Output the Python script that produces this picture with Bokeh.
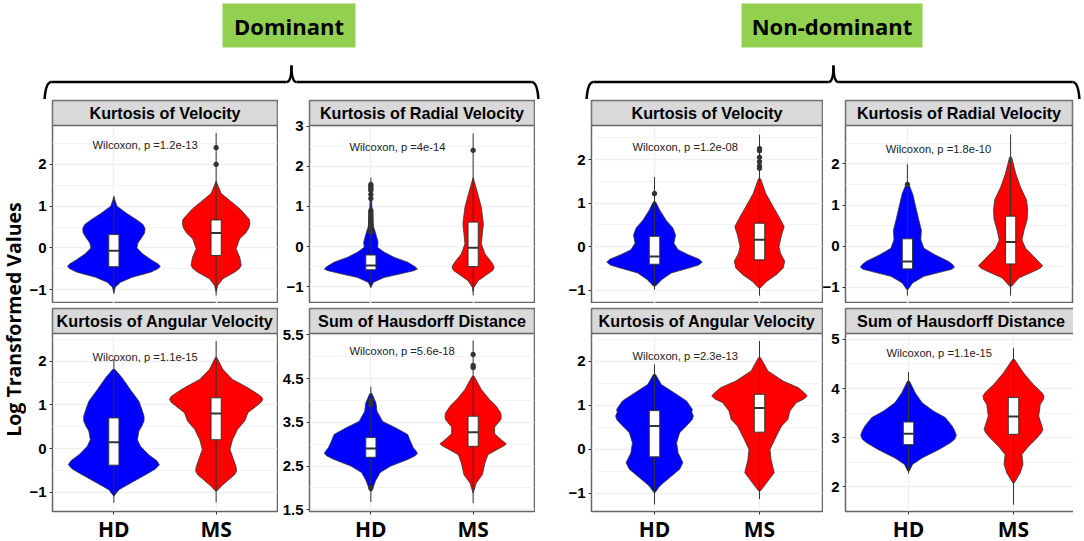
# violin panels, dominant / non-dominant hand
from bokeh.core.properties import value
from bokeh.embed import file_html
from bokeh.layouts import column, row
from bokeh.models import FixedTicker, Label, Range1d
from bokeh.plotting import figure
from bokeh.resources import INLINE

groups = ["HD", "MS"]
titles = ["Kurtosis of Velocity", "Kurtosis of Radial Velocity", "Kurtosis of Angular Velocity", "Sum of Hausdorff Distance",
          "Kurtosis of Velocity", "Kurtosis of Radial Velocity", "Kurtosis of Angular Velocity", "Sum of Hausdorff Distance"]
pvals = ["1.2e-13", "4e-14", "1.1e-15", "5.6e-18", "1.2e-08", "1.8e-10", "2.3e-13", "1.1e-15"]

# density outline: y value and half width of each violin
d_vel_hd_y = [1.22, 1.0, .82, .66, .56, .46, .36, .24, .12, 0, -.14, -.3, -.38, -.44, -.5, -.58, -.7, -.82, -.94, -1.08]
d_vel_hd_w = [0, .03, .13, .23, .285, .305, .30, .27, .235, .225, .28, .375, .43, .455, .43, .36, .18, .065, .013, 0]
d_vel_ms_y = [1.6, 1.5, 1.3, 1.14, .94, .78, .68, .58, .48, .36, .22, -.02, -.22, -.34, -.42, -.5, -.58, -.74, -.9, -1.05]
d_vel_ms_w = [0, .016, .05, .13, .23, .29, .325, .33, .32, .29, .23, .195, .23, .24, .245, .225, .18, .065, .016, 0]

d_rad_hd_y = [1.6, 1.0, .5, .3, .11, -.02, -.14, -.27, -.39, -.5, -.56, -.6, -.68, -.77, -.89, -1.02]
d_rad_hd_w = [0, .01, .025, .05, .07, .065, .13, .23, .36, .43, .455, .42, .29, .13, .026, 0]
d_rad_ms_y = [1.72, 1.32, .98, .57, .32, .07, -.18, -.39, -.47, -.53, -.6, -.68, -.85, -1.02, -1.12]
d_rad_ms_w = [0, .045, .08, .1, .09, .08, .115, .18, .2, .205, .19, .145, .05, .007, 0]

d_ang_hd_y = [1.81, 1.62, 1.35, 1.08, .85, .74, .63, .52, .4, .2, .05, -.14, -.28, -.37, -.46, -.56, -.75, -.94, -1.09]
d_ang_hd_w = [.01, .08, .16, .245, .28, .295, .295, .275, .245, .23, .26, .34, .42, .445, .41, .34, .195, .05, 0]
d_ang_ms_y = [2.08, 1.81, 1.58, 1.39, 1.24, 1.18, 1.12, 1.06, 1.0, .82, .63, .44, .2, -.02, -.25, -.42, -.52, -.6, -.67, -.86, -.97]
d_ang_ms_w = [.007, .065, .16, .31, .41, .445, .455, .44, .41, .31, .28, .21, .16, .135, .17, .195, .2, .18, .145, .05, .007]

d_hau_hd_y = [4.16, 3.94, 3.75, 3.52, 3.37, 3.22, 3.07, 2.92, 2.85, 2.79, 2.73, 2.65, 2.5, 2.35, 2.16, 1.93]
d_hau_hd_w = [.01, .05, .06, .115, .245, .36, .385, .415, .44, .455, .43, .36, .195, .09, .045, .01]
d_hau_ms_y = [4.55, 4.25, 4.02, 3.87, 3.71, 3.63, 3.56, 3.39, 3.24, 3.1, 3.07, 3.01, 2.96, 2.89, 2.76, 2.57, 2.3, 2.11, 1.88]
d_hau_ms_w = [.01, .08, .16, .225, .27, .275, .27, .21, .21, .275, .29, .325, .3, .245, .145, .115, .09, .03, 0]

n_vel_hd_y = [1.03, .84, .61, .43, .27, .08, -.07, -.18, -.28, -.35, -.42, -.49, -.6, -.75, -.9]
n_vel_hd_w = [.01, .05, .11, .175, .2, .185, .225, .32, .42, .455, .42, .32, .16, .07, .01]
n_vel_ms_y = [1.56, 1.22, .92, .69, .46, .27, 0, -.15, -.33, -.49, -.64, -.79, -.94]
n_vel_ms_w = [.01, .06, .13, .185, .235, .21, .185, .2, .24, .225, .16, .07, .01]

n_rad_hd_y = [1.52, 1.28, .96, .64, .39, .15, -.05, -.21, -.37, -.45, -.51, -.56, -.61, -.73, -.89, -1.05]
n_rad_hd_w = [.01, .05, .08, .11, .135, .13, .16, .27, .4, .44, .455, .43, .35, .16, .05, .006]
n_rad_ms_y = [2.16, 1.76, 1.44, 1.12, .88, .64, .39, .15, -.05, -.25, -.41, -.47, -.53, -.61, -.77, -.97]
n_rad_ms_w = [.01, .05, .095, .155, .165, .16, .13, .11, .145, .225, .285, .31, .29, .225, .08, .01]

n_ang_hd_y = [1.7, 1.47, 1.28, 1.1, .91, .84, .76, .68, .57, .38, .15, -.08, -.3, -.45, -.64, -.83, -.98]
n_ang_hd_w = [.01, .065, .19, .305, .36, .355, .37, .36, .32, .24, .21, .225, .27, .24, .145, .05, .006]
n_ang_ms_y = [2.08, 1.78, 1.55, 1.4, 1.28, 1.21, 1.14, 1.06, .87, .68, .53, .3, 0, -.23, -.53, -.72, -.94]
n_ang_ms_w = [.01, .08, .225, .37, .43, .455, .42, .35, .29, .27, .21, .16, .1, .11, .14, .08, .01]

n_hau_hd_y = [4.15, 3.91, 3.71, 3.54, 3.41, 3.24, 3.14, 3.05, 2.97, 2.9, 2.76, 2.59, 2.46, 2.32]
n_hau_hd_w = [.01, .065, .13, .24, .35, .415, .44, .455, .44, .4, .29, .13, .04, .006]
n_hau_ms_y = [4.59, 4.32, 4.08, 3.92, 3.85, 3.78, 3.68, 3.44, 3.24, 3.17, 3.1, 3.0, 2.83, 2.66, 2.46, 2.29, 2.08]
n_hau_ms_w = [.01, .095, .19, .27, .29, .285, .255, .24, .27, .28, .265, .225, .145, .08, .09, .065, .006]

# box stats per panel
hd_q1 = [-.45, -.58, -.38, 2.7, -.4, -.55, -.17, 2.86]
hd_med = [-.07, -.475, .145, 2.9, -.22, -.37, .53, 3.08]
hd_q3 = [.32, -.21, .7, 3.15, .24, .18, .88, 3.32]
ms_q1 = [-.18, -.5, .2, 2.95, -.3, -.43, .39, 3.07]
ms_med = [.36, -.03, .8, 3.27, .16, .1, .94, 3.43]
ms_q3 = [.67, .61, 1.16, 3.64, .54, .73, 1.25, 3.82]
hd_lo = [-1.09, -1.02, -1.24, 1.68, -.98, -1.2, -1.25, 2.27]
hd_hi = [1.25, 1.72, 2.04, 4.31, 1.6, 1.99, 1.93, 4.34]
ms_lo = [-1.14, -1.22, -1.23, 1.65, -1.12, -1.2, -1.13, 1.64]
ms_hi = [2.75, 2.82, 2.46, 5.37, 2.57, 2.71, 2.46, 4.83]

# outliers per panel
hd_out = [[], [.35, .4, .45, .5, .55, .6, .65, .7, .75, .8, .85, .9, 1.2, 1.3, 1.4, 1.45, 1.5, 1.55], [], [2.0, 3.9, 3.95, 4.0],
          [1.22], [1.5], [], []]
ms_out = [[2.0, 2.4], [2.4], [], [4.75, 4.8, 5.05], [1.8, 1.85, 1.95, 2.05, 2.2, 2.25], [], [], []]

y_ticks = [[-1, 0, 1, 2], [-1, 0, 1, 2, 3], [-1, 0, 1, 2], [1.5, 2.5, 3.5, 4.5, 5.5],
           [-1, 0, 1, 2], [-1, 0, 1, 2], [-1, 0, 1, 2], [2, 3, 4, 5]]
y_lims = [(-1.33, 2.93), (-1.42, 3.02), (-1.44, 2.63), (1.46, 5.53),
          (-1.3, 2.78), (-1.39, 2.93), (-1.41, 2.63), (1.5, 5.12)]
label_y = [2.47, 2.48, 2.1, 5.12, 2.28, 2.37, 2.11, 4.72]

violins = [(d_vel_hd_y, d_vel_hd_w, d_vel_ms_y, d_vel_ms_w), (d_rad_hd_y, d_rad_hd_w, d_rad_ms_y, d_rad_ms_w),
           (d_ang_hd_y, d_ang_hd_w, d_ang_ms_y, d_ang_ms_w), (d_hau_hd_y, d_hau_hd_w, d_hau_ms_y, d_hau_ms_w),
           (n_vel_hd_y, n_vel_hd_w, n_vel_ms_y, n_vel_ms_w), (n_rad_hd_y, n_rad_hd_w, n_rad_ms_y, n_rad_ms_w),
           (n_ang_hd_y, n_ang_hd_w, n_ang_ms_y, n_ang_ms_w), (n_hau_hd_y, n_hau_hd_w, n_hau_ms_y, n_hau_ms_w)]

DARK = "#333333"
BORDER = "#666666"
FONT = "Liberation Sans"
LABEL_FONT = "Open Sans"
PLOT_H = 178
STRIP_H = 25


def violin(p, pos, ys, ws, color):
    xs = [pos + w for w in ws] + [pos - w for w in reversed(ws)]
    p.patch(xs, ys + ys[::-1], fill_color=color, line_color=DARK, line_width=0.8, line_join="round")


def box(p, pos, q1, med, q3, lo, hi, outliers):
    p.segment(pos, lo, pos, hi, line_color=DARK, line_width=1)
    p.quad(left=pos - .05, right=pos + .05, bottom=q1, top=q3, fill_color="white", line_color=DARK, line_width=1)
    p.segment(pos - .05, med, pos + .05, med, line_color=DARK, line_width=2)
    if outliers:
        p.scatter([pos] * len(outliers), outliers, size=4.5, color=DARK)


def panel(i, frame_width, border_left, bottom=False, margin=(0, 0, 0, 0)):
    y0, y1 = y_lims[i]
    # the frame also holds the grey strip, so ticks near the top keep their room
    strip_top = y1 + (y1 - y0) * STRIP_H / PLOT_H
    p = figure(frame_width=frame_width, frame_height=PLOT_H + STRIP_H, toolbar_location=None, output_backend="svg",
               x_range=Range1d(.4, 2.6), y_range=Range1d(y0, strip_top), margin=margin,
               min_border_left=border_left, min_border_right=1, min_border_top=1, min_border_bottom=0,
               background_fill_color="white", border_fill_color=None)
    p.outline_line_color = BORDER
    p.outline_line_width = 1.5

    major = y_ticks[i]
    step = major[1] - major[0]
    minor = [t - step / 2 for t in major] + [major[-1] + step / 2]
    p.yaxis.ticker = FixedTicker(ticks=major)
    p.ygrid.ticker = FixedTicker(ticks=major, minor_ticks=minor)
    p.xaxis.ticker = FixedTicker(ticks=[1, 2])
    p.xgrid.ticker = FixedTicker(ticks=[1, 2])
    p.grid.grid_line_color = "#f0f0f0"
    p.grid.grid_line_width = 1.5
    p.ygrid.minor_grid_line_color = "#f3f3f3"
    p.ygrid.minor_grid_line_width = 1

    p.axis.axis_line_color = None
    p.axis.major_tick_line_color = DARK
    p.axis.major_tick_in = 0
    p.axis.major_tick_out = 3
    p.axis.minor_tick_line_color = None
    p.yaxis.major_label_text_font = FONT
    p.yaxis.major_label_text_font_style = "bold"
    p.yaxis.major_label_text_font_size = "15px"
    p.yaxis.major_label_text_color = "black"
    p.yaxis.major_label_standoff = 3
    if bottom:
        p.xaxis.major_label_overrides = {1: groups[0], 2: groups[1]}
        p.xaxis.major_label_text_font = LABEL_FONT
        p.xaxis.major_label_text_font_style = "bold"
        p.xaxis.major_label_text_font_size = "21px"
        p.xaxis.major_label_text_color = "black"
        p.xaxis.major_label_standoff = 0
    else:
        p.xaxis.visible = False

    p.quad(left=.4, right=2.6, bottom=y1, top=strip_top, fill_color="#d9d9d9", line_color=BORDER, line_width=1.5)
    p.add_layout(Label(x=1.5, y=(y1 + strip_top) / 2, text=titles[i], text_font=FONT, text_font_style="bold",
                       text_font_size="16.2px", text_color="black", text_align="center", text_baseline="middle"))

    hd_y, hd_w, ms_y, ms_w = violins[i]
    violin(p, 1, hd_y, hd_w, "#0000ff")
    violin(p, 2, ms_y, ms_w, "#ff0000")
    box(p, 1, hd_q1[i], hd_med[i], hd_q3[i], hd_lo[i], hd_hi[i], hd_out[i])
    box(p, 2, ms_q1[i], ms_med[i], ms_q3[i], ms_lo[i], ms_hi[i], ms_out[i])

    p.add_layout(Label(x=.79, y=label_y[i], text="Wilcoxon, p =" + pvals[i], text_font=FONT, text_font_size="11.2px",
                       text_color="#222222", text_align="left", text_baseline="middle"))
    return p


def brace(p, x0, xm, x1, y=81.5, tip=65, foot=100):
    p.quadratic(x0, foot, x0 + 7, y, x0 + 1, y, line_color="black", line_width=2.5)
    p.segment(x0 + 7, y, xm - 5, y, line_color="black", line_width=2.5)
    p.quadratic(xm - 5, y, xm, tip, xm, y, line_color="black", line_width=2.5)
    p.quadratic(xm, tip, xm + 5, y, xm, y, line_color="black", line_width=2.5)
    p.segment(xm + 5, y, x1 - 7, y, line_color="black", line_width=2.5)
    p.quadratic(x1 - 7, y, x1, foot, x1 - 1, y, line_color="black", line_width=2.5)


header = figure(width=1084, height=99, toolbar_location=None, output_backend="svg",
                x_range=Range1d(0, 1084), y_range=Range1d(99, 0), min_border=0)
header.axis.visible = False
header.grid.visible = False
header.outline_line_color = None
header.quad(left=[222, 741], right=[355, 922], top=[3, 3], bottom=[47, 47], fill_color="#92d050", line_color=None)
header.text([288.5, 831.5], [25, 25], text=["Dominant", "Non-dominant"], text_font=value(LABEL_FONT),
            text_font_style="bold", text_font_size="22px", text_align="center", text_baseline="middle", text_color="black")
brace(header, 44, 291, 538)
brace(header, 586, 833, 1079)

side = figure(width=26, height=412, toolbar_location=None, output_backend="svg",
              x_range=Range1d(0, 26), y_range=Range1d(512, 100), min_border=0)
side.axis.visible = False
side.grid.visible = False
side.outline_line_color = None
side.text([13], [320], text=["Log Transformed Values"], angle=1.5708, text_font=value(LABEL_FONT),
          text_font_style="bold", text_font_size="19.5px", text_align="center", text_baseline="middle", text_color="black")

col1 = column(panel(0, 225, 26), panel(2, 225, 26, bottom=True, margin=(4, 0, 0, 0)), spacing=0)
col2 = column(panel(1, 225, 31), panel(3, 225, 31, bottom=True, margin=(4, 0, 0, 0)), spacing=0)
col3 = column(panel(4, 231, 31, margin=(0, 0, 0, 25)), panel(6, 231, 31, bottom=True, margin=(4, 0, 0, 25)), spacing=0)
# the tick labels of this column need more room than the gap, so it overlaps the column before it
col4 = column(panel(5, 231, 22, margin=(0, 0, 0, -4)), panel(7, 231, 22, bottom=True, margin=(4, 0, 0, -4)), spacing=0)

root = column(header, row(side, col1, col2, col3, col4, spacing=0), spacing=0)
open("out.html", "w").write(file_html(root, INLINE))
